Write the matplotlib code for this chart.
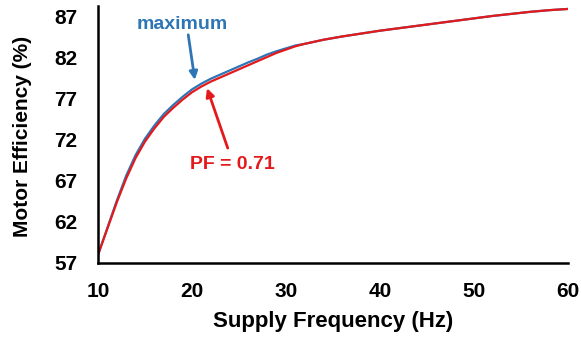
import matplotlib
matplotlib.use("Agg")
import matplotlib.pyplot as plt

freq = [10, 11, 12, 13, 14, 15, 16, 17, 18, 19, 20, 21, 22, 23, 24, 25, 26, 27, 28, 29, 30,
        31, 32, 34, 36, 38, 40, 42, 44, 46, 48, 50, 52, 54, 56, 58, 60]
eff_pf071 = [58.0, 61.2, 64.4, 67.3, 69.8, 71.8, 73.4, 74.8, 75.9, 76.9, 77.8, 78.5, 79.1, 79.6, 80.1, 80.6, 81.1, 81.6, 82.1, 82.6, 83.0,
             83.4, 83.7, 84.2, 84.6, 84.95, 85.3, 85.6, 85.9, 86.2, 86.5, 86.8, 87.1, 87.35, 87.6, 87.8, 87.95]
eff_max = [58.0, 61.3, 64.6, 67.65, 70.15, 72.15, 73.75, 75.15, 76.25, 77.25, 78.15, 78.85, 79.45, 79.95, 80.45, 80.95, 81.45, 81.9, 82.4, 82.8, 83.15,
           83.5, 83.7, 84.2, 84.6, 84.95, 85.3, 85.6, 85.9, 86.2, 86.5, 86.8, 87.1, 87.35, 87.6, 87.8, 87.95]
xticks = [10, 20, 30, 40, 50, 60]
yticks = [57, 62, 67, 72, 77, 82, 87]

plt.rcParams['font.family'] = ['Liberation Sans', 'DejaVu Sans']

fig = plt.figure(figsize=(5.81, 3.37), dpi=100)
ax = fig.add_axes([0.1687, 0.2196, 0.8089, 0.7624])

blue = '#2E75B6'
red = '#E31A1C'
ax.plot(freq, eff_max, color=blue, lw=1.6, solid_capstyle='round', solid_joinstyle='round')
ax.plot(freq, eff_pf071, color=red, lw=1.6, solid_capstyle='round', solid_joinstyle='round')

ax.set_xlim(10, 60)
ax.set_ylim(57, 88.3)
ax.set_xticks(xticks)
ax.set_yticks(yticks)
ax.tick_params(axis='x', length=0, labelsize=15, pad=14)
ax.tick_params(axis='y', length=0, labelsize=15, pad=15)
for lab in ax.get_xticklabels() + ax.get_yticklabels():
    lab.set_fontweight('bold')
for s in ['top', 'right']:
    ax.spines[s].set_visible(False)
for s in ['left', 'bottom']:
    ax.spines[s].set_linewidth(1.8)
    ax.spines[s].set_color('black')

ax.set_xlabel('Supply Frequency (Hz)', fontsize=16, fontweight='bold')
ax.set_ylabel('Motor Efficiency (%)', fontsize=15, fontweight='bold')
ax.xaxis.set_label_coords(0.5, -0.187)
ax.yaxis.set_label_coords(-0.14, 0.494)

ax.text(19.0, 86.0, 'maximum', color=blue, fontsize=14, fontweight='bold', ha='center', va='center')
ax.annotate('', xy=(20.3, 79.3), xytext=(19.6, 84.8),
            arrowprops=dict(arrowstyle='-|>', color=blue, lw=2.0, mutation_scale=12, shrinkA=0, shrinkB=0))
ax.text(24.3, 69.0, 'PF = 0.71', color=red, fontsize=14, fontweight='bold', ha='center', va='center')
ax.annotate('', xy=(21.6, 78.3), xytext=(23.8, 71.0),
            arrowprops=dict(arrowstyle='-|>', color=red, lw=2.0, mutation_scale=12, shrinkA=0, shrinkB=0))

fig.savefig('out.png', dpi=100)
